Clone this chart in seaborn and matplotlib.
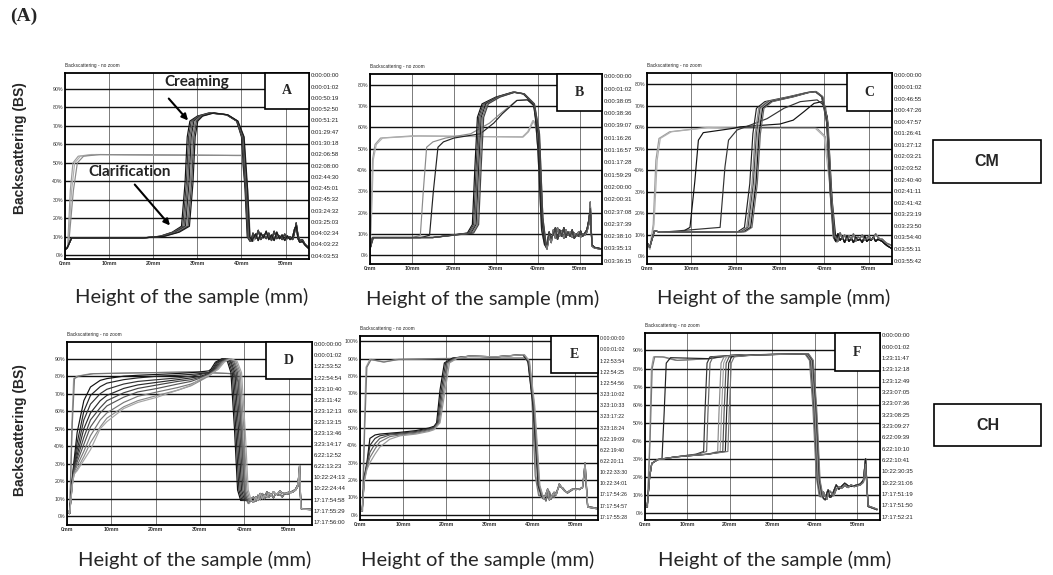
import matplotlib

matplotlib.use("Agg")

import matplotlib.pyplot as plt
import pandas as pd
import seaborn as sns
from matplotlib.patches import Rectangle

W, H = 1053, 575

EARLY = "#9c9c9c"
LATE_SHADES = ["#111111", "#3a3a3a", "#5c5c5c", "#222222", "#7a7a7a", "#444444", "#1a1a1a", "#666666"]

# ---------------- panel A (CM) ----------------
A_EARLY_Y = [3, 5, 35, 50, 53.6, 54.5, 54, 54, 35, 10, 7.6]
A_EARLY_X = [
    [0, 0.6, 1.2, 1.8, 3.0, 6.0, 38.9, 40.6, 41.4, 42.0, 42.6],
    [0, 0.7, 1.5, 2.2, 3.5, 7.0, 38.5, 40.3, 41.2, 41.9, 42.5],
    [0, 0.8, 1.9, 2.8, 4.2, 8.0, 38.0, 40.0, 41.0, 41.8, 42.4],
]
A_LATE_Y = [3, 4, 9.4, 9.4, 10.3, 12.5, 15.7, 39, 64, 72.6, 75.3, 77, 76, 72.6, 64, 35.5, 10, 7.6]
A_LATE_X = [
    [0, 0.5, 1.5, 17.7, 21.5, 24.3, 26.4, 27.2, 27.7, 28.3, 30.0, 32.6, 36.6, 38.9, 40.0, 40.8, 41.3, 41.9],
    [0, 0.5, 1.5, 17.7, 21.6, 24.5, 26.7, 27.5, 28.0, 28.6, 30.2, 32.8, 36.6, 38.9, 40.1, 40.9, 41.4, 42.0],
    [0, 0.5, 1.5, 17.7, 21.8, 24.7, 27.0, 27.8, 28.3, 28.9, 30.4, 33.0, 36.7, 39.0, 40.2, 41.0, 41.5, 42.1],
    [0, 0.5, 1.5, 17.7, 22.0, 25.0, 27.3, 28.1, 28.6, 29.2, 30.6, 33.2, 36.7, 39.0, 40.3, 41.1, 41.6, 42.2],
    [0, 0.5, 1.5, 17.7, 22.2, 25.3, 27.6, 28.4, 28.9, 29.5, 30.8, 33.4, 36.8, 39.1, 40.4, 41.2, 41.7, 42.3],
    [0, 0.5, 1.5, 17.7, 22.4, 25.6, 27.9, 28.7, 29.2, 29.8, 31.0, 33.6, 36.8, 39.1, 40.5, 41.3, 41.8, 42.4],
    [0, 0.5, 1.5, 17.7, 22.6, 25.9, 28.2, 29.0, 29.5, 30.1, 31.2, 33.8, 36.9, 39.2, 40.6, 41.4, 41.9, 42.5],
]
A_TAIL_X = [42.6, 43.2, 43.8, 44.4, 45.0, 45.6, 46.2, 46.8, 47.4, 48.0, 48.6, 49.2, 49.8, 50.4,
            51.0, 51.6, 52.0, 52.4, 52.8, 53.2, 53.8, 54.4, 55.3]
A_TAIL_Y = [
    [12, 9, 13.5, 8.5, 11, 9, 12, 8, 13, 9, 10.5, 8.5, 11.5, 9, 10, 8.5, 12, 17.5, 11, 8, 8.5, 6, 4],
    [9, 11.5, 8, 12, 9.5, 13, 8.5, 11, 8, 12.5, 9, 11, 8, 10.5, 8.5, 10, 14, 16, 9, 7, 7.5, 5.5, 3.5],
]
A_TIMES = ["0:00:00:00", "0:00:01:02", "0:00:50:19", "0:00:52:50", "0:00:51:21", "0:01:29:47",
           "0:01:30:18", "0:02:06:58", "0:02:08:00", "0:02:44:30", "0:02:45:01", "0:02:45:32",
           "0:03:24:32", "0:03:25:03", "0:04:02:34", "0:04:03:22", "0:04:03:53"]

# ---------------- panel B (CM) ----------------
B_EARLY_Y = [3, 20, 45, 52, 55, 56, 55.5, 58, 63.2, 60, 41, 11.4, 4]
B_EARLY_X = [
    [0, 0.3, 0.6, 1.2, 2.5, 10, 36.5, 37.8, 39.0, 39.8, 40.6, 41.4, 42.2],
    [0, 0.4, 0.8, 1.5, 3.0, 12, 36.3, 37.6, 38.8, 39.6, 40.4, 41.2, 42.0],
]
B_MID_Y = [3, 8.3, 8.3, 9.5, 30, 50.7, 53.2, 55, 57, 62, 66.3, 72.6, 72.9, 70, 50, 12, 5]
B_MID_X = [
    [0, 0.8, 10, 12.0, 12.7, 13.5, 15, 18, 24, 28.5, 31, 35, 37.5, 39.2, 40.0, 40.9, 41.6],
    [0, 0.8, 12, 14.2, 15.1, 16.2, 17.5, 20, 26.3, 29.5, 31.5, 35, 37.5, 39.2, 40.0, 40.9, 41.6],
]
B_LATE_Y = [3, 8.4, 8.4, 10.5, 14.5, 41.3, 64.7, 71, 74.2, 76.5, 75.7, 71, 57, 17.7, 5]
B_LATE_X = [
    [0, 0.6, 15, 23.2, 24.4, 25.0, 25.6, 26.7, 30.0, 34.0, 36.5, 38.9, 40.1, 40.9, 41.7],
    [0, 0.6, 15, 23.5, 24.7, 25.3, 25.9, 27.0, 30.2, 34.2, 36.6, 39.0, 40.2, 41.0, 41.8],
    [0, 0.6, 15, 23.8, 25.0, 25.6, 26.2, 27.3, 30.4, 34.3, 36.7, 39.1, 40.3, 41.1, 41.9],
    [0, 0.6, 15, 24.1, 25.3, 25.9, 26.5, 27.6, 30.6, 34.4, 36.7, 39.1, 40.3, 41.1, 41.9],
    [0, 0.6, 15, 24.4, 25.6, 26.2, 26.8, 27.9, 30.8, 34.5, 36.8, 39.2, 40.4, 41.2, 42.0],
    [0, 0.6, 15, 24.7, 25.9, 26.5, 27.1, 28.2, 31.0, 34.6, 36.8, 39.2, 40.4, 41.2, 42.0],
]
B_TAIL_X = [42.2, 42.7, 43.2, 43.7, 44.2, 44.7, 45.2, 45.7, 46.2, 46.7, 47.2, 47.7, 48.2, 48.7,
            49.2, 49.7, 50.2, 50.7, 51.2, 51.7, 52.2, 52.5, 52.9, 53.5, 55.4]
B_TAIL_Y = [
    [3, 9, 6, 12, 8, 13, 9, 11.5, 8, 12, 9.5, 11, 8.5, 10.5, 9, 11, 8.5, 10, 9.5, 11, 15, 25, 4.4, 3.5, 2.8],
    [5, 11, 8, 10, 13, 7.5, 12, 9, 13, 8.5, 11, 9, 12, 8, 10, 9, 11.5, 9, 10.5, 12, 17, 22, 5, 3.8, 3],
]
B_TIMES = ["0:00:00:00", "0:00:01:02", "0:00:38:05", "0:00:38:36", "0:00:39:07", "0:01:16:26",
           "0:01:16:57", "0:01:17:28", "0:01:59:29", "0:02:00:00", "0:02:00:31", "0:02:37:08",
           "0:02:37:39", "0:02:38:10", "0:03:35:13", "0:03:36:15"]

# ---------------- panel C (CM) ----------------
C_EARLY_Y = [6.5, 3.4, 15, 44.7, 54.8, 57.9, 59.9, 59.5, 59.5, 55.6, 33.8, 8.9, 6.5]
C_EARLY_X = [
    [0, 0.6, 1.4, 2.0, 2.7, 5.1, 13.5, 21, 38.4, 40.3, 41.4, 42.2, 42.9],
    [0, 0.7, 1.6, 2.3, 3.0, 5.5, 14, 21, 38.0, 40.0, 41.2, 42.0, 42.7],
]
C_FIRST_X = [0, 0.6, 1.7, 3, 8, 9.7, 10.8, 11.6, 12.7, 19.5, 21, 30, 33, 35.4, 37.7, 39.5, 40.7, 41.8, 42.6]
C_FIRST_Y = [6.5, 4.2, 12, 11.2, 11.5, 13.5, 35, 54, 57.5, 59.5, 60.2, 61.5, 63.3, 67.2, 71.1, 71.9, 65, 26, 8.9]
C_SECOND_X = [0, 0.6, 1.7, 3, 16.5, 17.6, 18.4, 20.3, 23.3, 27.1, 30.9, 34.6, 38.4, 40.3, 41.4, 42.3]
C_SECOND_Y = [6.5, 4.2, 12, 11.2, 13.5, 41.6, 54, 58.7, 61, 64, 68.8, 71.9, 72.7, 69.6, 33.8, 8.9]
C_LATE_Y = [6.5, 4.2, 12, 11.2, 11.5, 13.5, 33.8, 57, 68.8, 71.9, 74.2, 76.1, 76.6, 74.2, 61.8, 30.7, 8.9]
C_LATE_X = [
    [0, 0.6, 1.7, 3, 20.5, 22.0, 23.2, 23.9, 24.7, 26.6, 32.0, 36.0, 37.9, 39.4, 40.6, 41.3, 42.1],
    [0, 0.6, 1.7, 3, 21.0, 22.5, 23.7, 24.4, 25.2, 27.1, 32.4, 36.1, 38.0, 39.5, 40.7, 41.4, 42.2],
    [0, 0.6, 1.7, 3, 21.3, 22.8, 24.0, 24.7, 25.5, 27.4, 32.6, 36.2, 38.0, 39.5, 40.7, 41.4, 42.2],
    [0, 0.6, 1.7, 3, 21.6, 23.1, 24.3, 25.0, 25.8, 27.7, 32.8, 36.3, 38.1, 39.6, 40.8, 41.5, 42.3],
    [0, 0.6, 1.7, 3, 21.9, 23.4, 24.6, 25.3, 26.1, 28.0, 33.0, 36.4, 38.1, 39.6, 40.8, 41.5, 42.3],
    [0, 0.6, 1.7, 3, 22.2, 23.7, 24.9, 25.6, 26.4, 28.3, 33.2, 36.5, 38.2, 39.7, 40.9, 41.6, 42.4],
]
C_TAIL_X = [42.6, 43.1, 43.6, 44.1, 44.6, 45.1, 45.6, 46.1, 46.6, 47.1, 47.6, 48.1, 48.6, 49.1,
            49.6, 50.1, 50.6, 51.1, 51.6, 52.1, 52.6, 53.1, 53.6, 54.2, 55.4]
C_TAIL_Y = [
    [7, 10.5, 7.5, 9, 6.5, 9.5, 7, 8.5, 6.5, 9, 7.5, 8, 6.5, 9.5, 7, 8, 7.5, 9, 7, 8, 7.5, 7, 6, 5, 3.5],
    [9, 7, 11, 8, 10, 7.5, 9.5, 8, 10.5, 7, 9, 8.5, 10, 7.5, 8.5, 9.5, 8, 8.5, 10.5, 9, 8, 8, 7, 6, 5],
]
C_TIMES = ["0:00:00:00", "0:00:01:02", "0:00:46:55", "0:00:47:26", "0:00:47:57", "0:01:26:41",
           "0:01:27:12", "0:02:03:21", "0:02:03:52", "0:02:40:40", "0:02:41:11", "0:02:41:42",
           "0:03:23:19", "0:03:23:50", "0:03:54:40", "0:03:55:11", "0:03:55:42"]

# ---------------- panel D (CH) ----------------
D_EARLY_Y = [3.4, 1.5, 53, 78.6, 80, 81.4, 82.4, 81.4, 76.7, 43.4, 11, 7.2]
D_EARLY_X = [
    [0, 0.6, 1.1, 1.5, 2.3, 5.3, 27.9, 37.7, 38.9, 39.6, 40.4, 41.1],
    [0, 0.6, 1.2, 1.7, 2.6, 6.0, 28.0, 37.5, 38.7, 39.4, 40.2, 40.9],
]
D_RISE_X = [0, 0.6, 1.2, 1.6, 2.3, 3.8, 5.3, 7.5, 9.0, 12.8, 16.0, 20.4, 25.0, 28.0, 30.2, 32.0]
D_RISE_Y = [
    [3.4, 1.5, 22, 32, 48, 66, 73.8, 77.6, 78.6, 80, 80.5, 81, 81.5, 82, 82.5, 83],
    [3.4, 1.5, 21, 30, 42, 60, 69, 74, 76, 78, 79, 80, 80.5, 81, 81.5, 82],
    [3.4, 1.5, 20, 29, 38, 55, 64, 70, 72.5, 75.5, 77, 78, 79, 80, 81, 82],
    [3.4, 1.5, 20, 28, 35, 50, 59, 66, 69, 73, 75, 76.5, 78, 79, 80, 81.5],
    [3.4, 1.5, 19, 27, 33, 45, 55, 62, 66, 70.5, 73, 75, 77, 78, 79.5, 81],
    [3.4, 1.5, 19, 26, 31, 41, 51, 59, 63, 68, 71, 73, 75.5, 77, 79, 81],
    [3.4, 1.5, 18, 25, 29, 37, 46, 55, 59, 65, 68.5, 71, 73.5, 75.5, 78, 80.5],
    [3.4, 1.5, 18, 24, 27, 34, 42, 51, 56, 62.5, 66, 69, 72, 74.5, 77.5, 80],
    [3.4, 1.5, 18, 24, 26, 32, 38, 50, 54, 61.5, 65, 68, 72, 74.8, 78.6, 80.5],
]
D_DROP_Y = [84, 88, 90, 88.5, 82, 50, 15, 9]
D_DROP_X = [
    [32.5, 33.5, 35.0, 36.2, 37.0, 37.8, 38.5, 39.2],
    [32.8, 33.8, 35.3, 36.5, 37.3, 38.1, 38.8, 39.5],
    [33.0, 34.0, 35.5, 36.8, 37.6, 38.4, 39.1, 39.8],
    [33.2, 34.3, 35.8, 37.0, 37.9, 38.7, 39.4, 40.1],
    [33.4, 34.6, 36.1, 37.3, 38.2, 39.0, 39.7, 40.4],
    [33.6, 34.8, 36.3, 37.6, 38.5, 39.3, 40.0, 40.7],
    [33.8, 35.0, 36.6, 37.8, 38.8, 39.6, 40.3, 41.0],
    [34.0, 35.2, 36.8, 38.1, 39.1, 39.9, 40.6, 41.3],
    [34.2, 35.5, 37.0, 38.4, 39.4, 40.2, 40.9, 41.6],
]
D_TAIL_X = [41.6, 42.1, 42.6, 43.1, 43.6, 44.1, 44.6, 45.1, 45.6, 46.1, 46.6, 47.1, 47.6, 48.1,
            48.6, 49.1, 49.6, 50.1, 50.6, 51.1, 51.6, 52.1, 52.5, 52.8, 53.3, 55.0]
D_TAIL_Y = [
    [9, 8, 11, 9, 13, 10, 12, 11, 13.5, 12, 14, 12.5, 13, 14.5, 13, 13.5, 13, 14, 13.5, 14, 15, 17, 29, 4.4, 4, 3.8],
    [10, 11, 8.5, 12, 9.5, 13, 10, 14, 11, 12.5, 10.5, 13, 12, 12.5, 11, 13, 12.5, 13, 14, 14.5, 15.5, 18, 25, 4.6, 4.2, 4],
]
D_TIMES = ["0:00:00:00", "0:00:01:02", "1:22:53:52", "1:22:54:54", "3:23:10:40", "3:23:11:42",
           "3:23:12:13", "3:23:13:15", "3:23:13:46", "3:23:14:17", "6:22:12:52", "6:22:13:23",
           "10:22:24:13", "10:22:24:44", "17:17:54:58", "17:17:55:29", "17:17:56:00"]

# ---------------- panel E (CH) ----------------
E_EARLY_Y = [3, 2, 50, 85, 89.5, 88, 89.5, 90, 90.3, 87.5, 68.5, 22.5, 11]
E_EARLY_X = [
    [0, 0.5, 1.0, 1.4, 2.3, 5.4, 8.5, 17.7, 38.6, 39.3, 40.1, 40.9, 41.7],
    [0, 0.6, 1.1, 1.6, 2.6, 5.6, 9.0, 18.0, 38.4, 39.1, 39.9, 40.7, 41.5],
]
E_RISE_X = [0, 0.5, 1.0, 1.6, 2.3, 3.5, 4.6, 6.9, 9.3, 13, 16, 17.2]
E_RISE_Y = [
    [3, 2, 22, 30, 44, 46, 46.5, 47, 47.5, 48.5, 50, 51],
    [3, 2, 21, 29, 40, 44, 45.5, 46.5, 47, 48, 49.5, 50.5],
    [3, 2, 20, 28, 36, 41, 44, 46, 46.5, 47.5, 49, 50],
    [3, 2, 20, 27, 33, 38, 42, 45, 46, 47, 48.5, 49.5],
    [3, 2, 19, 26, 30, 35, 39, 43.5, 45.5, 46.5, 48, 49],
]
E_STEP_Y = [53, 72, 87.5, 90.3, 91.4, 91, 92.3, 88.5, 62.8, 16.9, 11]
E_STEP_X = [
    [17.8, 18.6, 19.6, 21.5, 25.5, 31.6, 37.8, 39.0, 40.2, 41.4, 42.1],
    [18.0, 18.9, 19.9, 21.8, 25.5, 31.6, 37.9, 39.1, 40.3, 41.5, 42.2],
    [18.2, 19.2, 20.2, 22.1, 25.5, 31.6, 38.0, 39.2, 40.4, 41.6, 42.3],
    [18.4, 19.5, 20.5, 22.4, 25.5, 31.6, 38.1, 39.3, 40.5, 41.7, 42.4],
    [18.6, 19.8, 20.8, 22.7, 25.5, 31.6, 38.2, 39.4, 40.6, 41.8, 42.5],
]
E_TAIL_X = [42.6, 43.2, 43.6, 44.0, 44.4, 44.8, 45.1, 45.6, 46.3, 47.1, 47.6, 48.2, 48.8, 49.4,
            50.2, 51.0, 51.7, 52.3, 52.9, 55.0]
E_TAIL_Y = [
    [9.2, 12, 14.9, 8.5, 10.1, 12, 13, 11.5, 17.8, 14.9, 13.5, 13, 14, 14.9, 14.5, 15, 15.5, 30, 4.4, 3.5],
    [11, 8, 12, 13.5, 9, 11, 10, 13, 16.5, 15.5, 14, 12.5, 13.5, 14.5, 15, 14.5, 16, 27, 4.8, 3.8],
]
E_TIMES = ["0:00:00:00", "0:00:01:02", "1:22:53:54", "1:22:54:25", "1:22:54:56", "3:23:10:02",
           "3:23:10:33", "3:23:17:22", "3:23:18:24", "6:22:19:09", "6:22:19:40", "6:22:20:11",
           "10:22:33:30", "10:22:34:01", "17:17:54:26", "17:17:54:57", "17:17:55:28"]

# ---------------- panel F (CH) ----------------
F_EARLY_Y = [4, 3, 40, 80, 86.5, 86.4, 84.5, 85.4, 87.3, 88.2, 84.5, 58.7, 20, 9]
F_EARLY_X = [
    [0, 0.5, 1.1, 1.5, 2.0, 4.1, 7.2, 14.8, 20.2, 37.8, 38.9, 39.7, 40.5, 41.2],
    [0, 0.6, 1.2, 1.7, 2.3, 4.5, 7.6, 15.0, 20.5, 37.6, 38.7, 39.5, 40.3, 41.0],
]
F_FIRST_X = [0, 0.5, 1.1, 1.6, 3.0, 4.0, 4.5, 5.0, 6.0, 14.8, 20.2, 38.0, 39.1, 39.9, 40.7, 41.4]
F_FIRST_Y = [4, 3, 20, 27.4, 29.5, 30, 55, 83, 86, 85.5, 87.3, 88.2, 84.5, 58, 18, 9]
F_LATE_Y = [4, 3, 20, 27.4, 29.5, 31, 32.5, 34, 55, 83, 86.5, 87.5, 88.2, 84.5, 58, 18, 9]
F_LATE_X = [
    [0, 0.5, 1.1, 1.6, 3.0, 7.2, 12.0, 13.8, 14.1, 14.6, 15.3, 22.0, 37.9, 39.0, 39.8, 40.6, 41.3],
    [0, 0.5, 1.1, 1.6, 3.0, 7.2, 12.5, 14.5, 14.8, 15.3, 16.0, 22.5, 38.0, 39.1, 39.9, 40.7, 41.4],
    [0, 0.5, 1.1, 1.6, 3.0, 7.2, 14.8, 17.1, 17.4, 17.9, 18.6, 24.0, 38.1, 39.2, 40.0, 40.8, 41.5],
    [0, 0.5, 1.1, 1.6, 3.0, 7.2, 14.8, 17.7, 18.0, 18.5, 19.2, 24.5, 38.2, 39.3, 40.1, 40.9, 41.6],
    [0, 0.5, 1.1, 1.6, 3.0, 7.2, 14.8, 18.3, 18.6, 19.1, 19.8, 25.0, 38.3, 39.4, 40.2, 41.0, 41.7],
    [0, 0.5, 1.1, 1.6, 3.0, 7.2, 14.8, 18.9, 19.2, 19.7, 20.4, 25.5, 38.4, 39.5, 40.3, 41.1, 41.8],
    [0, 0.5, 1.1, 1.6, 3.0, 7.2, 14.8, 19.5, 19.8, 20.3, 21.0, 26.0, 38.5, 39.6, 40.4, 41.2, 41.9],
]
F_TAIL_X = [41.6, 42.0, 42.4, 42.8, 43.1, 43.5, 43.9, 44.4, 45.0, 45.6, 46.2, 47.0, 47.8, 48.5,
            49.2, 50.0, 50.7, 51.4, 51.9, 52.5, 54.6]
F_TAIL_Y = [
    [10.9, 8, 7.2, 11, 12.7, 8.5, 9, 12, 15.5, 13, 14.6, 16.4, 15, 14.6, 15, 15.5, 16, 18.2, 30, 3.5, 1.7],
    [9, 11.5, 9, 7.5, 10, 12, 11, 9.5, 13, 14.5, 13.5, 15, 14, 15.5, 14.5, 15, 15.5, 17, 27, 3.8, 2],
]
F_TIMES = ["0:00:00:00", "0:00:01:02", "1:23:11:47", "1:23:12:18", "1:23:12:49", "3:23:07:05",
           "3:23:07:36", "3:23:08:25", "3:23:09:27", "6:22:09:39", "6:22:10:10", "6:22:10:41",
           "10:22:30:35", "10:22:31:06", "17:17:51:19", "17:17:51:50", "17:17:52:21"]


def px_rect(left, top, right, bottom):
    return [left / W, 1 - bottom / H, (right - left) / W, (bottom - top) / H]


def shared_y(x_rows, y_values, shades):
    return [(xs, y_values, shades[i % len(shades)]) for i, xs in enumerate(x_rows)]


def draw_panel(ax, curves, tail_x, tail_rows, ylim, yticks, letter, times, box_px, time_size=4.3):
    rows = []
    for i, (xs, ys, shade) in enumerate(curves):
        tail_y = tail_rows[i % len(tail_rows)]
        extra = [(tx, ty) for tx, ty in zip(tail_x, tail_y) if tx > xs[-1]]
        for x, y in list(zip(xs, ys)) + extra:
            rows.append({"x": x, "y": y, "curve": f"c{i}"})
    frame = pd.DataFrame(rows)
    palette = {f"c{i}": c[2] for i, c in enumerate(curves)}
    sns.lineplot(data=frame, x="x", y="y", hue="curve", palette=palette, estimator=None,
                 sort=False, legend=False, linewidth=0.85, ax=ax)

    ax.set_xlim(0, 55.3)
    ax.set_ylim(*ylim)
    ax.set_xticks([0, 10, 20, 30, 40, 50])
    ax.set_xticklabels([f"{v}mm" for v in [0, 10, 20, 30, 40, 50]], fontweight="bold")
    ax.set_yticks(yticks)
    ax.set_yticklabels([f"{v}%" for v in yticks])
    ax.tick_params(length=0, labelsize=3.8, pad=1.5, colors="#333333")
    ax.set_xlabel("")
    ax.set_ylabel("")
    ax.set_axisbelow(True)
    ax.grid(axis="y", color="#111111", linewidth=1.0)
    ax.grid(axis="x", color="#666666", linewidth=0.6)
    for spine in ax.spines.values():
        spine.set_visible(True)
        spine.set_color("black")
        spine.set_linewidth(1.3)

    ax.text(0.0, 1.025, "Backscattering - no zoom", transform=ax.transAxes, fontsize=3.4,
            va="bottom", ha="left")

    bw, bh = box_px
    pos = ax.get_position()
    fw, fh = bw / (pos.width * W), bh / (pos.height * H)
    ax.add_patch(Rectangle((1 - fw, 1 - fh), fw, fh, transform=ax.transAxes, facecolor="white",
                           edgecolor="black", linewidth=1.2, zorder=6, clip_on=False))
    ax.text(1 - fw / 2, 1 - fh / 2, letter, transform=ax.transAxes, fontsize=10,
            fontweight="bold", family="Liberation Serif", ha="center", va="center", zorder=7)

    n = len(times)
    for j, t in enumerate(times):
        ax.text(1.008, 0.985 - j * 0.97 / (n - 1), t, transform=ax.transAxes, fontsize=time_size,
                va="center", ha="left", color="#222222")


sns.set_theme(style="white")
plt.rcParams["font.family"] = ["Liberation Sans", "DejaVu Sans"]

fig = plt.figure(figsize=(W / 100, H / 100), dpi=100)
fig.patch.set_facecolor("white")

ax_a = fig.add_axes(px_rect(65, 73, 309, 259))
ax_b = fig.add_axes(px_rect(370, 74, 602, 264))
ax_c = fig.add_axes(px_rect(647, 73, 892, 264))
ax_d = fig.add_axes(px_rect(67, 342, 312, 525))
ax_e = fig.add_axes(px_rect(360, 336, 598, 520))
ax_f = fig.add_axes(px_rect(645, 333, 880, 520))

curves_a = shared_y(A_EARLY_X, A_EARLY_Y, [EARLY, "#b0b0b0", "#8a8a8a"]) + shared_y(A_LATE_X, A_LATE_Y, LATE_SHADES)
draw_panel(ax_a, curves_a, A_TAIL_X, A_TAIL_Y, (-2, 98.6), list(range(0, 91, 10)), "A", A_TIMES, (44, 36))

curves_b = (shared_y(B_EARLY_X, B_EARLY_Y, [EARLY, "#b0b0b0"])
            + shared_y(B_MID_X, B_MID_Y, ["#8a8a8a", "#222222"])
            + shared_y(B_LATE_X, B_LATE_Y, LATE_SHADES))
draw_panel(ax_b, curves_b, B_TAIL_X, B_TAIL_Y, (-4, 85), list(range(0, 81, 10)), "B", B_TIMES, (45, 37))

curves_c = (shared_y(C_EARLY_X, C_EARLY_Y, [EARLY, "#b0b0b0"])
            + [(C_FIRST_X, C_FIRST_Y, "#111111"), (C_SECOND_X, C_SECOND_Y, "#333333")]
            + shared_y(C_LATE_X, C_LATE_Y, ["#222222", "#8a8a8a", "#444444", "#a0a0a0", "#111111", "#666666"]))
draw_panel(ax_c, curves_c, C_TAIL_X, C_TAIL_Y, (-3.5, 85.2), list(range(0, 81, 10)), "C", C_TIMES, (45, 38))

curves_d = shared_y(D_EARLY_X, D_EARLY_Y, [EARLY, "#777777"])
D_SHADES = ["#111111", "#222222", "#333333", "#2a2a2a", "#444444", "#555555", "#777777", "#8a8a8a", "#a5a5a5"]
for k, ys in enumerate(D_RISE_Y):
    curves_d.append((D_RISE_X + D_DROP_X[k], ys + D_DROP_Y, D_SHADES[k]))
draw_panel(ax_d, curves_d, D_TAIL_X, D_TAIL_Y, (-5, 99.5), list(range(0, 91, 10)), "D", D_TIMES, (46, 37))

curves_e = shared_y(E_EARLY_X, E_EARLY_Y, [EARLY, "#777777"])
E_SHADES = ["#111111", "#333333", "#555555", "#777777", "#999999"]
for k, ys in enumerate(E_RISE_Y):
    curves_e.append((E_RISE_X + E_STEP_X[k], ys + E_STEP_Y, E_SHADES[k]))
draw_panel(ax_e, curves_e, E_TAIL_X, E_TAIL_Y, (-3, 103), list(range(0, 101, 10)), "E", E_TIMES, (47, 37),
           time_size=3.8)

curves_f = (shared_y(F_EARLY_X, F_EARLY_Y, [EARLY, "#777777"])
            + [(F_FIRST_X, F_FIRST_Y, "#222222")]
            + shared_y(F_LATE_X, F_LATE_Y, ["#333333", "#666666", "#8a8a8a", "#a0a0a0", "#555555", "#222222", "#777777"]))
draw_panel(ax_f, curves_f, F_TAIL_X, F_TAIL_Y, (-4, 99.7), list(range(0, 91, 10)), "F", F_TIMES, (45, 38))

# annotations on panel A
ax_a.annotate("", xy=(28.3, 71.8), xytext=(23.1, 85.9),
              arrowprops=dict(arrowstyle="-|>", color="black", lw=1.5, mutation_scale=9))
ax_a.text(29.9, 93.5, "Creaming", fontsize=11, fontweight="bold", family=["Lato", "DejaVu Sans"],
          ha="center", va="center", color="#222222")
ax_a.annotate("", xy=(24.2, 15), xytext=(15.4, 39.4),
              arrowprops=dict(arrowstyle="-|>", color="black", lw=1.5, mutation_scale=9))
ax_a.text(14.7, 45, "Clarification", fontsize=11, fontweight="bold", family=["Lato", "DejaVu Sans"],
          ha="center", va="center", color="#222222")

# figure-level labels
fig.text(10 / W, 1 - 16 / H, "(A)", fontsize=14, fontweight="bold", family="Liberation Serif",
         ha="left", va="center")
for yc in (148, 430):
    fig.text(20 / W, 1 - yc / H, "Backscattering (BS)", rotation=90, fontsize=10,
             fontweight="bold", ha="center", va="center")
for xc, yc in ((192, 297), (483, 299), (774, 298), (195, 560), (478, 560), (775, 560)):
    fig.text(xc / W, 1 - yc / H, "Height of the sample (mm)", fontsize=14.5,
             family=["Lato", "DejaVu Sans"], ha="center", va="center")

for label, (left, top, right, bottom) in (("CM", (933, 140, 1041, 183)), ("CH", (934, 404, 1041, 446))):
    fig.patches.append(Rectangle((left / W, 1 - bottom / H), (right - left) / W, (bottom - top) / H,
                                 transform=fig.transFigure, facecolor="white", edgecolor="black",
                                 linewidth=1.2))
    fig.text((left + right) / 2 / W, 1 - (top + bottom) / 2 / H, label, fontsize=11.5,
             fontweight="bold", ha="center", va="center")

fig.savefig("out.png", dpi=100, facecolor="white")
plt.close(fig)
